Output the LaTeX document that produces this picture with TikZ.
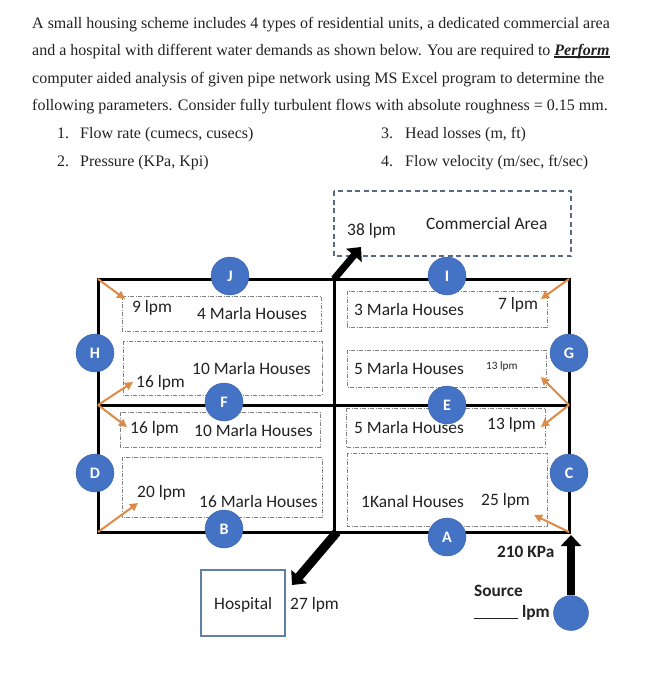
\documentclass[tikz,border=0pt]{standalone}
\usepackage{fontspec}
\setmainfont{Liberation Serif}
\newfontfamily\dgm{Carlito}
\usetikzlibrary{arrows.meta}
\definecolor{nodeblue}{HTML}{4472C4}
\definecolor{flow}{HTML}{DD8A47}
\definecolor{ink}{HTML}{222222}
\definecolor{boxgrey}{HTML}{7F7F7F}
\definecolor{boxdash}{HTML}{5A6A86}
\definecolor{hospline}{HTML}{5F7FA8}
\newcommand\thickul[1]{\setbox0\hbox{#1}\leavevmode\rlap{\rule[-2.6pt]{\wd0}{1.3pt}}\box0 }
\tikzset{
  x=1pt,y=-1pt,
  para/.style={anchor=base west,inner sep=0pt,text=ink,font=\fontsize{16}{18}\selectfont},
  lab/.style={anchor=base west,inner sep=0pt,text=ink,font=\dgm\fontsize{17.4}{20}\selectfont},
  smalllab/.style={lab,font=\dgm\fontsize{11.2}{12}\selectfont},
  boldlab/.style={lab,font=\dgm\bfseries\fontsize{17.3}{20}\selectfont},
  pipe/.style={draw=black,line width=3pt},
  zonebox/.style={draw=boxgrey,line width=0.7pt,dash pattern=on 4pt off 1.5pt on 1pt off 1.5pt},
  flowarrow/.style={draw=flow,line width=2pt,-{Triangle[width=8pt,length=8pt]}},
  mainarrow/.style={draw=black,-{Triangle[width=20pt,length=11pt]}},
  junction/.style={circle,fill=nodeblue,draw=nodeblue!85!black,line width=0.4pt,minimum size=38pt,inner sep=0pt,text=white,font=\dgm\bfseries\fontsize{16}{18}\selectfont},
}
\begin{document}
\begin{tikzpicture}
\useasboundingbox (0,0) rectangle (660,680);
\fill[white] (0,0) rectangle (660,680);

% paragraph
\node[para] (t1) at (32,28) {A small housing scheme includes 4 types of residential units, a dedicated commercial area};
\node[para] (t2) at (32,55) {and a hospital with different water demands as shown below. You are required to \thickul{\textbf{\textit{Perform}}}};
\node[para] (t3) at (32,83) {computer aided analysis of given pipe network using MS Excel program to determine the};
\node[para] (t4) at (32,110) {following parameters.  Consider fully turbulent flows with absolute roughness = 0.15 mm.};
\node[para] (n1) at (57,138) {1.};
\node[para] (i1) at (80,138) {Flow rate (cumecs, cusecs)};
\node[para] (n2) at (57,166) {2.};
\node[para] (i2) at (80,166) {Pressure (KPa, Kpi)};
\node[para] (n3) at (381,138) {3.};
\node[para] (i3) at (405,138) {Head losses (m, ft)};
\node[para] (n4) at (381,166) {4.};
\node[para] (i4) at (405,166) {Flow velocity (m/sec, ft/sec)};

% pipe corners
\coordinate (nw) at (98,279);
\coordinate (nc) at (334,279);
\coordinate (ne) at (569,279);
\coordinate (w) at (98,405);
\coordinate (e) at (569,405);
\coordinate (sw) at (98,532);
\coordinate (sc) at (334,532);
\coordinate (se) at (569,532);

% zones
\draw[zonebox] (122,296) rectangle (321,331);
\draw[zonebox] (123,341) rectangle (322,395);
\draw[zonebox] (120,412) rectangle (320,447);
\draw[zonebox] (122,457) rectangle (322,517);
\draw[zonebox] (347,291) rectangle (547,327);
\draw[zonebox] (347,350) rectangle (546,387);
\draw[zonebox] (346,408) rectangle (545,447);
\draw[zonebox] (347,453) rectangle (547,526);
\draw[draw=boxdash,line width=1.1pt,dash pattern=on 5pt off 3.5pt] (334,191) rectangle (571,256);
\node[draw=hospline,line width=1.1pt,minimum width=84pt,minimum height=66pt,inner sep=0pt] (hosp) at (243,603) {};

% pipes
\draw[pipe] (nw) -- (ne) -- (se) -- (sw) -- cycle;
\draw[pipe] (w) -- (e);
\draw[pipe] (nc) -- (sc);

% demand arrows
\coordinate (a1) at (125,299);
\coordinate (a2) at (133,382);
\coordinate (a3) at (127,427);
\coordinate (a4) at (138,503);
\coordinate (a5) at (541,299);
\coordinate (a6) at (541,377);
\coordinate (a7) at (541,427);
\coordinate (a8) at (534,515);
\draw[flowarrow] (nw) -- (a1);
\draw[flowarrow] (w) -- (a2);
\draw[flowarrow] (w) -- (a3);
\draw[flowarrow] (sw) -- (a4);
\draw[flowarrow] (ne) -- (a5);
\draw[flowarrow] (e) -- (a6);
\draw[flowarrow] (e) -- (a7);
\draw[flowarrow] (se) -- (a8);

% junctions
\node[junction] (J) at (230,276) {J};
\node[junction] (H) at (95,353) {H};
\node[junction] (F) at (224,402) {F};
\node[junction] (I) at (447,276) {I};
\node[junction] (G) at (569,353) {G};
\node[junction] (E) at (447,405) {E};
\node[junction] (D) at (95,473) {D};
\node[junction] (B) at (224,529) {B};
\node[junction] (C) at (569,473) {C};
\node[junction] (A) at (447,537) {A};
\node[circle,fill=nodeblue,draw=nodeblue!85!black,line width=0.4pt,minimum size=35pt,inner sep=0pt] (src) at (571,613) {};

% supply and large demands
\coordinate (comm) at (361,247);
\coordinate (hospin) at (292,585);
\coordinate (inlet) at (571,535);
\draw[mainarrow,line width=7pt] (nc) -- (comm);
\draw[mainarrow,line width=9pt] (337,532) -- (hospin);
\draw[mainarrow,line width=8pt] (src.north) -- (inlet);

% labels
\node[lab] (l1) at (132,312) {9 lpm};
\node[lab] (l2) at (197,319) {4 Marla Houses};
\node[lab] (l3) at (192,374) {10 Marla Houses};
\node[lab] (l4) at (136,387) {16 lpm};
\node[lab] (l5) at (130,433) {16 lpm};
\node[lab] (l6) at (194,436) {10 Marla Houses};
\node[lab] (l7) at (137,497) {20 lpm};
\node[lab] (l8) at (199,507) {16 Marla Houses};
\node[lab] (l9) at (214,609) {Hospital};
\node[lab] (l10) at (290,609) {27 lpm};
\node[lab] (l11) at (347,235) {38 lpm};
\node[lab] (l12) at (426,229) {Commercial Area};
\node[lab] (l13) at (354,315) {3 Marla Houses};
\node[lab] (l14) at (498,309) {7 lpm};
\node[lab] (l15) at (354,374) {5 Marla Houses};
\node[smalllab] (l16) at (486,369) {13 lpm};
\node[lab] (l17) at (354,433) {5 Marla Houses};
\node[lab] (l18) at (487,429) {13 lpm};
\node[lab] (l19) at (361,507) {1Kanal Houses};
\node[lab] (l20) at (481,505) {25 lpm};
\node[boldlab] (l21) at (497,557) {210 KPa};
\node[boldlab] (l22) at (474,596) {Source};
\node[boldlab] (l23) at (474,617) {\underline{\hspace{44pt}} lpm};
\end{tikzpicture}
\end{document}
